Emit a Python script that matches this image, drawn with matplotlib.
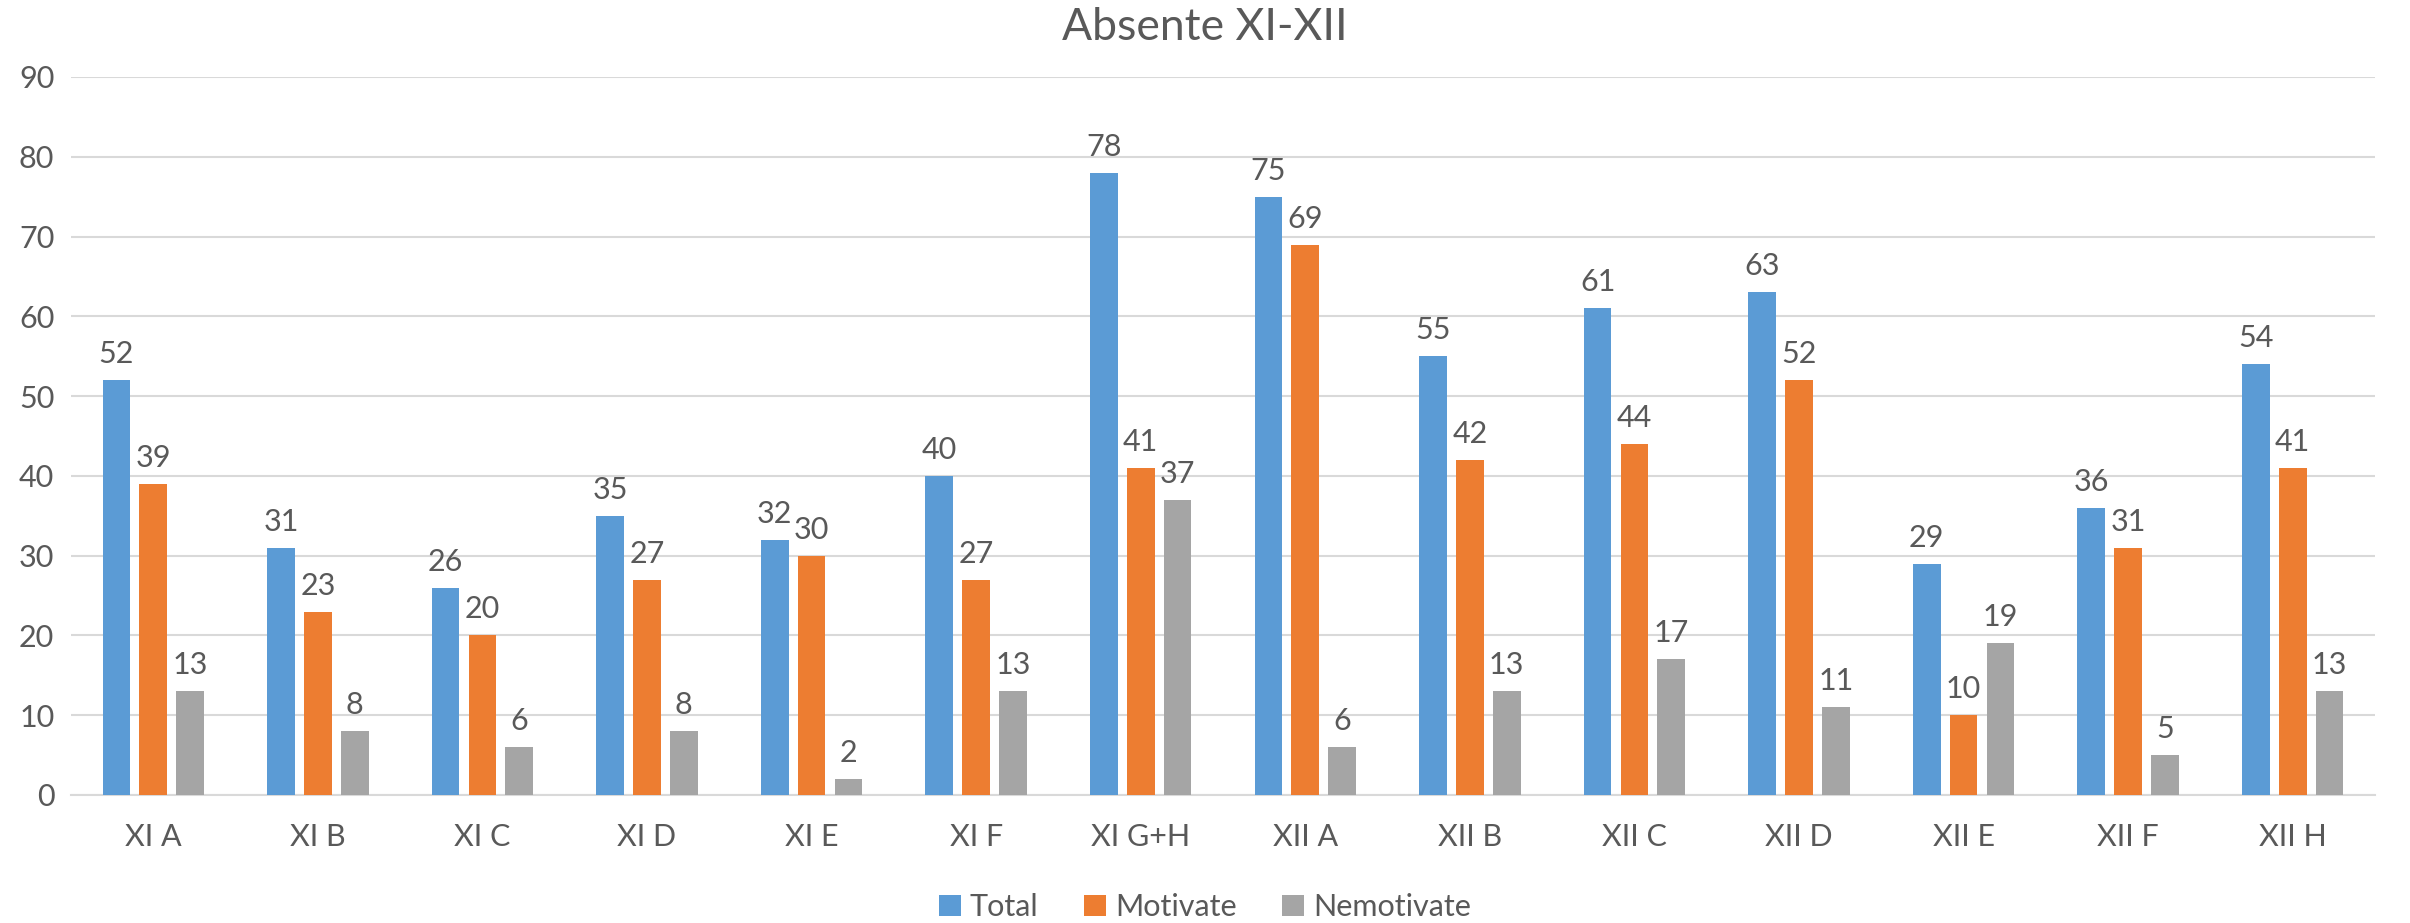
import numpy as np
import matplotlib
matplotlib.use("Agg")
import matplotlib.pyplot as plt

plt.rcParams['font.family'] = ['Lato', 'DejaVu Sans']

categories = ['XI A', 'XI B', 'XI C', 'XI D', 'XI E', 'XI F', 'XI G+H',
              'XII A', 'XII B', 'XII C', 'XII D', 'XII E', 'XII F', 'XII H']
total = [52, 31, 26, 35, 32, 40, 78, 75, 55, 61, 63, 29, 36, 54]
motivate = [39, 23, 20, 27, 30, 27, 41, 69, 42, 44, 52, 10, 31, 41]
nemotivate = [13, 8, 6, 8, 2, 13, 37, 6, 13, 17, 11, 19, 5, 13]

series = [('Total', total, '#5B9BD5'),
          ('Motivate', motivate, '#ED7D31'),
          ('Nemotivate', nemotivate, '#A5A5A5')]

text_color = '#595959'
grid_color = '#D9D9D9'

fig = plt.figure(figsize=(24.1, 9.23), dpi=100)
ax = fig.add_axes([71 / 2410, 1 - 795 / 923, (2375 - 71) / 2410, (795 - 77) / 923])

x = np.arange(len(categories))
pitch = 0.224
width = 0.168
for i, (name, vals, color) in enumerate(series):
    pos = x + (i - 1) * pitch
    ax.bar(pos, vals, width=width, color=color, label=name, zorder=3)
    for p, v in zip(pos, vals):
        ax.text(p, v + 1.5, str(v), ha='center', va='bottom',
                fontsize=22, color=text_color)

ax.set_xlim(-0.5, len(categories) - 0.5)
ax.set_ylim(0, 90)
ax.set_yticks(range(0, 91, 10))
ax.set_xticks(x)
ax.set_xticklabels(categories)
ax.grid(axis='y', color=grid_color, linewidth=1.5, zorder=0)
ax.tick_params(axis='both', length=0, labelsize=22, colors=text_color)
ax.tick_params(axis='x', pad=20)
ax.tick_params(axis='y', pad=12)
for s in ['top', 'right', 'left']:
    ax.spines[s].set_visible(False)
ax.spines['bottom'].set_color(grid_color)
ax.spines['bottom'].set_linewidth(1.5)

fig.suptitle('Absente XI-XII', y=1 - 28 / 923, va='center',
             fontsize=32, color=text_color)

fig.legend(loc='center', bbox_to_anchor=(0.5, 1 - 907 / 923), ncol=3,
           frameon=False, fontsize=22, labelcolor=text_color,
           handlelength=0.7, handleheight=0.7, handletextpad=0.3,
           columnspacing=1.5)

fig.savefig('out.png', dpi=100)
